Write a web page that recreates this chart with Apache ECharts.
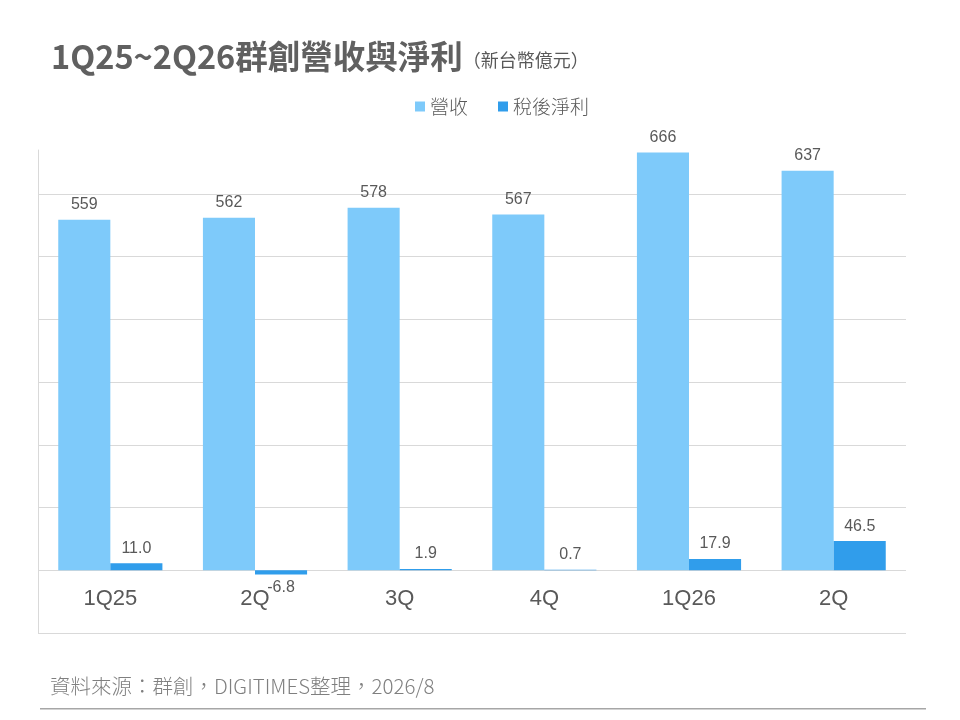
<!DOCTYPE html>
<html>
<head>
<meta charset="utf-8">
<script src="https://cdn.jsdelivr.net/npm/echarts@6/dist/echarts.min.js"></script>
<style>
  html, body { margin: 0; padding: 0; background: #fff; }
  #chart { width: 960px; height: 720px; }
</style>
</head>
<body>
<div id="chart"></div>
<script>
  const categories = ["1Q25", "2Q", "3Q", "4Q", "1Q26", "2Q"];
  const revenue = [559, 562, 578, 567, 666, 637];
  const netIncome = [11.0, -6.8, 1.9, 0.7, 17.9, 46.5];

  const font = "'Noto Sans CJK TC', 'Noto Sans', sans-serif";
  const numFont = "'Liberation Sans', Arial, sans-serif";
  const textColor = "#595959";
  const gridColor = "#d9d9d9";

  let myChart = echarts.init(document.getElementById("chart"), null, { renderer: "canvas" });

  let option = {
    backgroundColor: "#fff",
    animation: false,
    textStyle: { fontFamily: font },
    title: {
      left: 46,
      top: 35,
      text: "{main|1Q25~2Q26群創營收與淨利}{sub|（新台幣億元）}",
      textStyle: {
        rich: {
          main: { fontSize: 32.5, fontWeight: "bold", color: "#606060", fontFamily: font },
          sub: { fontSize: 18, fontWeight: "normal", color: textColor, fontFamily: font, padding: [8, 0, 0, 0] },
        },
      },
    },
    legend: {
      top: 92,
      left: 410,
      icon: "rect",
      itemWidth: 10,
      itemHeight: 10,
      itemGap: 30,
      textStyle: { fontSize: 19, color: textColor, fontFamily: font, fontWeight: 300 },
      data: ["營收", "稅後淨利"],
    },
    grid: { left: 38, right: 54, top: 150, bottom: 87, containLabel: false },
    xAxis: {
      type: "category",
      data: categories,
      axisLine: { show: false },
      axisTick: { show: false },
      axisLabel: {
        fontSize: 22,
        color: textColor,
        margin: -34,
        verticalAlign: "middle",
        fontFamily: numFont,
      },
    },
    yAxis: {
      type: "value",
      min: -100,
      max: 670,
      interval: 100,
      axisLine: { show: true, lineStyle: { color: gridColor } },
      axisTick: { show: false },
      axisLabel: { show: false },
      splitLine: {
        show: true,
        lineStyle: {
          color: [gridColor, gridColor, gridColor, gridColor, gridColor, gridColor, gridColor, gridColor, "rgba(0,0,0,0)"],
        },
      },
    },
    series: [
      {
        name: "營收",
        type: "bar",
        barWidth: "36%",
        barGap: "0%",
        itemStyle: { color: "#7ECAFA" },
        label: {
          show: true,
          position: "top",
          distance: 7,
          fontSize: 16,
          color: textColor,
          fontFamily: numFont,
        },
        data: revenue,
      },
      {
        name: "稅後淨利",
        type: "bar",
        barWidth: "36%",
        itemStyle: { color: "#309DEB" },
        label: {
          show: true,
          position: "top",
          distance: 7,
          fontSize: 16,
          color: textColor,
          fontFamily: numFont,
          formatter: (p) => p.value.toFixed(1),
        },
        data: netIncome.map((v) => {
          if (v < 0) {
            return { value: v, label: { position: "bottom", distance: 5 } };
          }
          return v;
        }),
      },
    ],
    graphic: [
      {
        type: "text",
        left: 50,
        top: 676,
        style: {
          text: "資料來源：群創，DIGITIMES整理，2026/8",
          fontSize: 20.5,
          fontWeight: 300,
          fill: "#7f7f7f",
          fontFamily: font,
        },
      },
      {
        type: "rect",
        left: 40,
        top: 708,
        shape: { width: 886, height: 1.5 },
        style: { fill: "#a6a6a6" },
      },
    ],
  };

  myChart.setOption(option);
</script>
</body>
</html>
